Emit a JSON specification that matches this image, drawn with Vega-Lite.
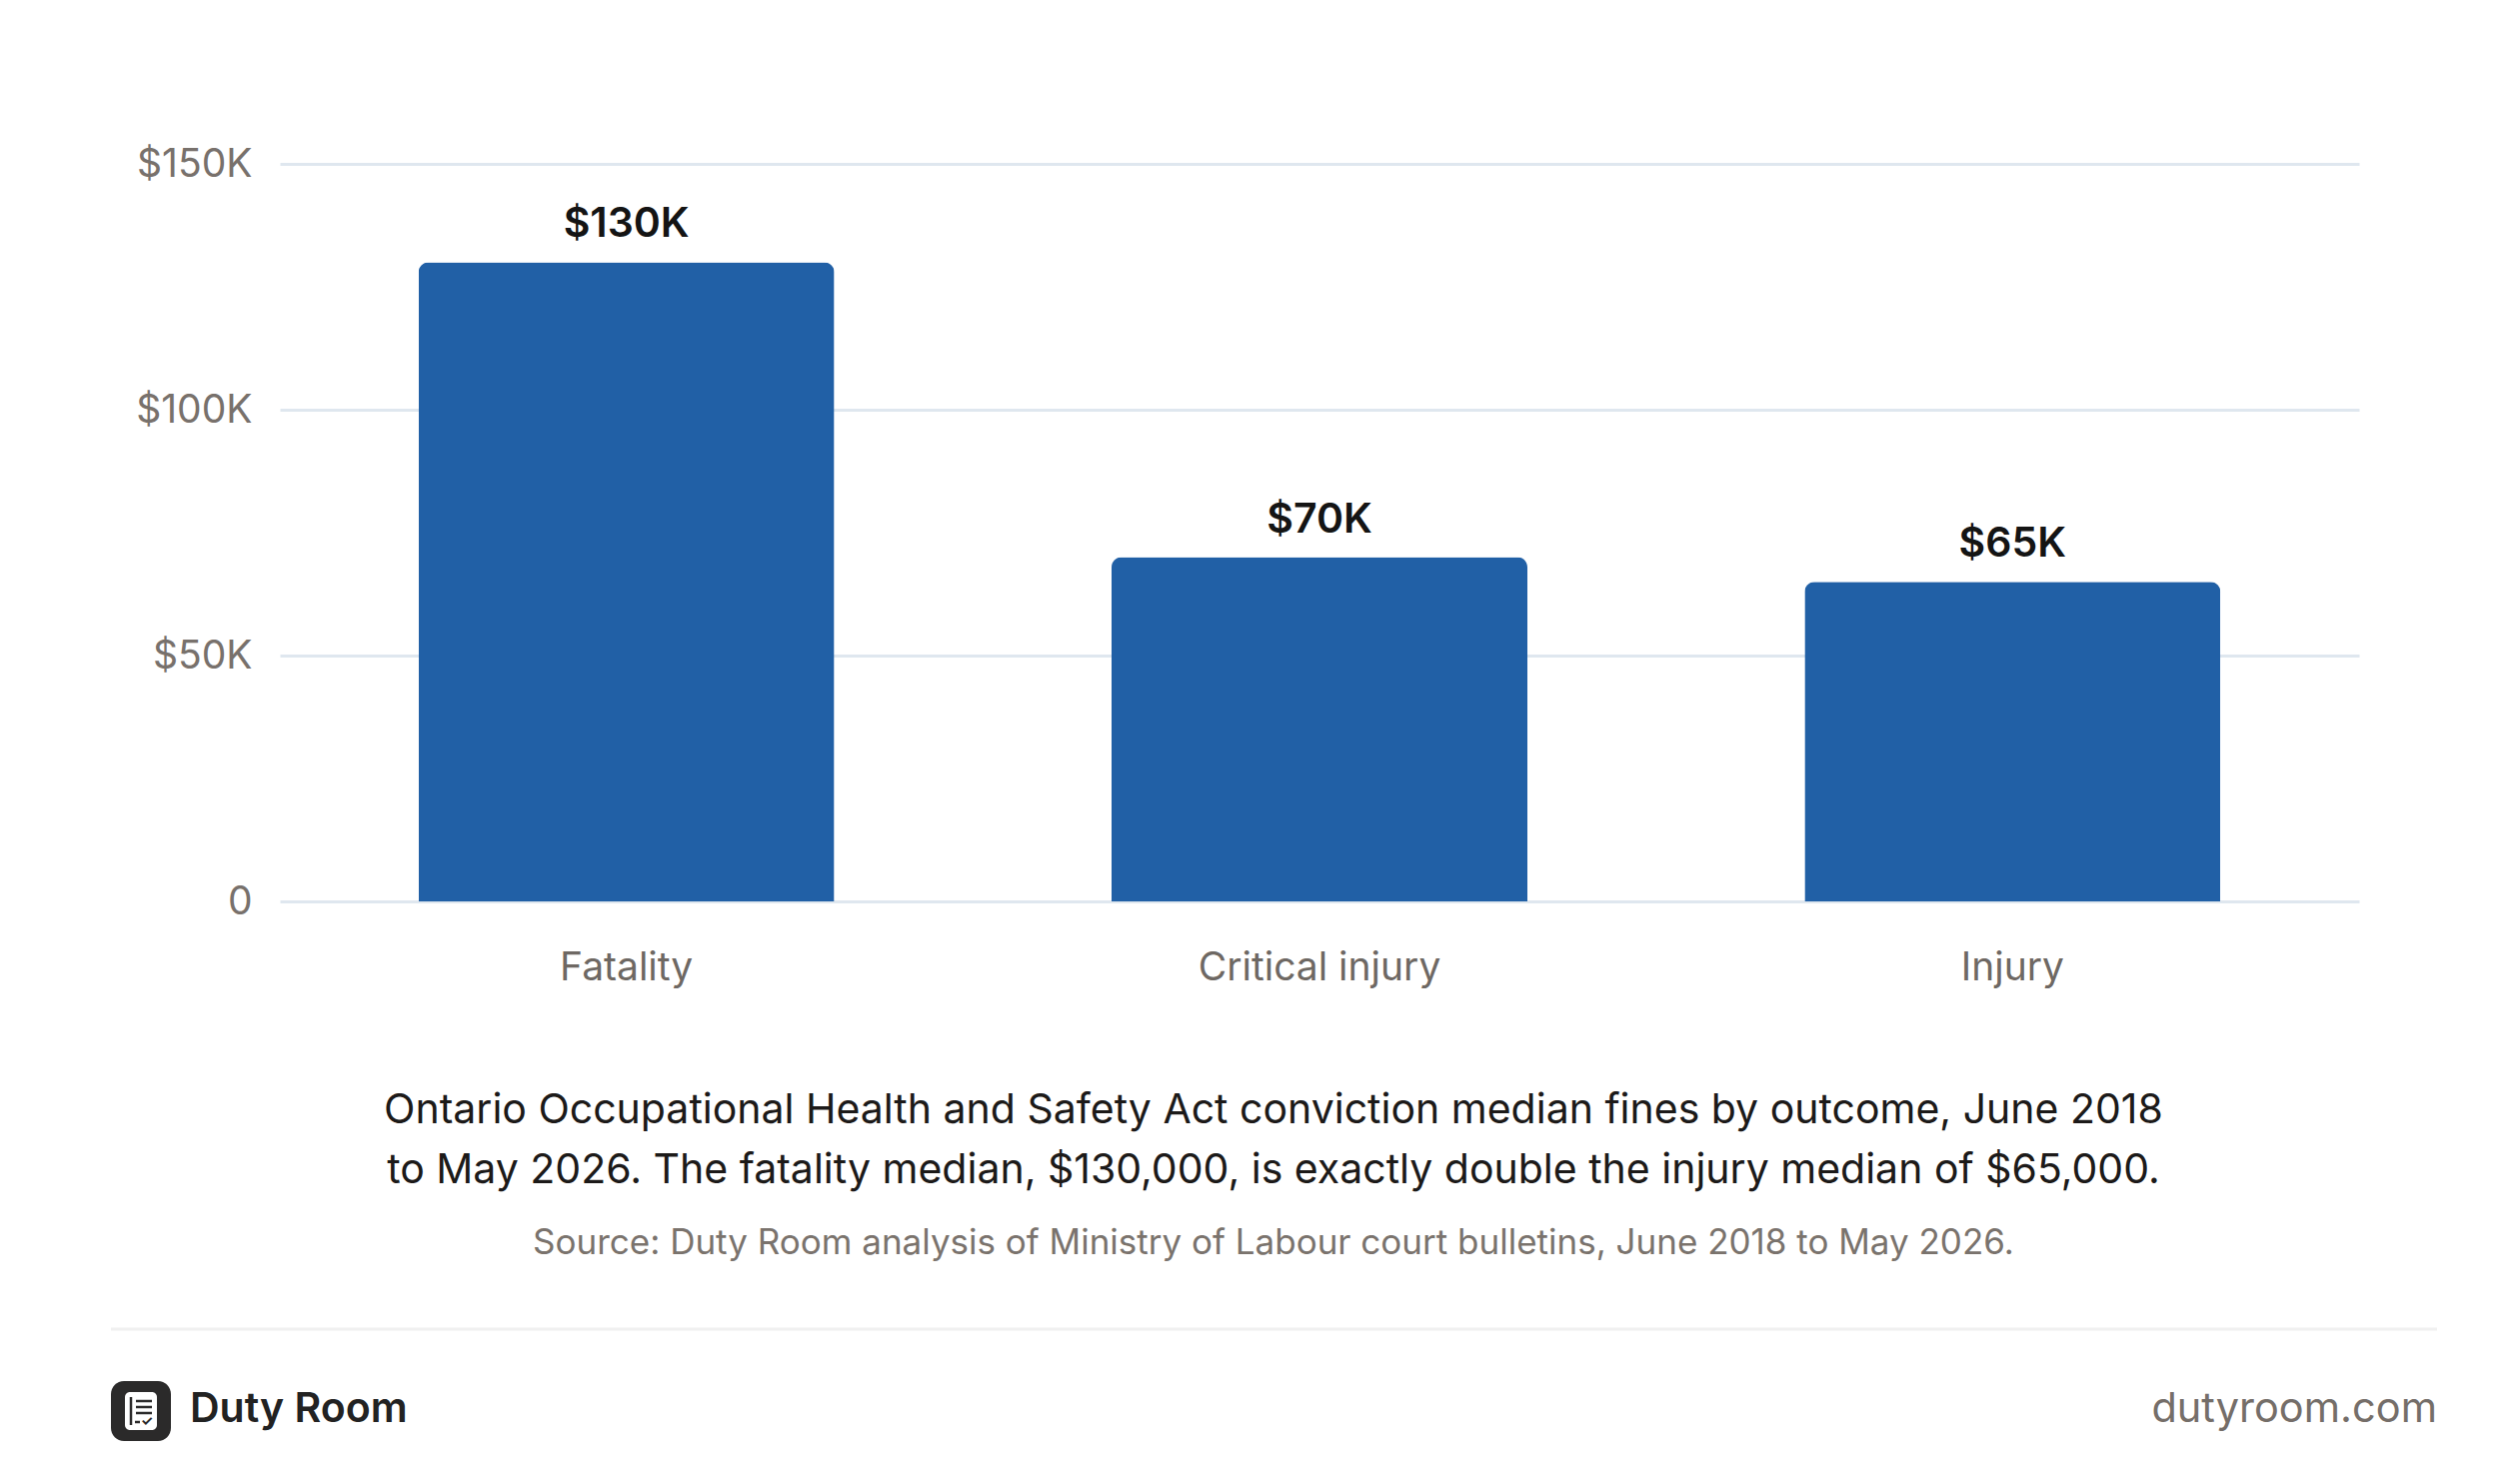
{
  "$schema": "https://vega.github.io/schema/vega-lite/v6.json",
  "background": "white",
  "padding": {"left": 109, "top": 145, "right": 84, "bottom": 0},
  "config": {"font": "Inter", "view": {"stroke": null}},
  "spacing": 66,
  "align": "none",
  "vconcat": [
    {
      "width": 2080,
      "height": 738,
      "data": {"values": [
        {"outcome": "Fatality", "median_fine": 130000, "label": "$130K"},
        {"outcome": "Critical injury", "median_fine": 70000, "label": "$70K"},
        {"outcome": "Injury", "median_fine": 65000, "label": "$65K"}
      ]},
      "title": {
        "text": ["Ontario Occupational Health and Safety Act conviction median fines by outcome, June 2018", "to May 2026. The fatality median, $130,000, is exactly double the injury median of $65,000."],
        "subtitle": "Source: Duty Room analysis of Ministry of Labour court bulletins, June 2018 to May 2026.",
        "orient": "bottom",
        "anchor": "middle",
        "frame": "group",
        "dx": -46,
        "offset": 104,
        "fontSize": 41,
        "fontWeight": 400,
        "lineHeight": 60,
        "color": "#1c1a19",
        "subtitleFontSize": 35,
        "subtitleColor": "#7a736d",
        "subtitlePadding": 34
      },
      "encoding": {
        "x": {
          "field": "outcome", "type": "nominal", "sort": null,
          "scale": {"paddingInner": 0.4, "paddingOuter": 0.2},
          "axis": {"title": null, "labelAngle": 0, "domain": false, "ticks": false, "labelFontSize": 39, "labelLimit": 0, "labelColor": "#6e6863", "labelPadding": 47}
        },
        "y": {
          "field": "median_fine", "type": "quantitative",
          "scale": {"domain": [0, 150000]},
          "axis": {"title": null, "values": [0, 50000, 100000, 150000], "labelExpr": "datum.value == 0 ? '0' : '$' + (datum.value / 1000) + 'K'", "domain": false, "ticks": false, "gridColor": "#dfe7ef", "gridWidth": 3, "labelFontSize": 39, "labelColor": "#78716c", "labelPadding": 28, "minExtent": 169, "maxExtent": 169}
        }
      },
      "layer": [
        {"mark": {"type": "bar", "color": "#2160a6", "cornerRadiusTopLeft": 10, "cornerRadiusTopRight": 10}},
        {"mark": {"type": "text", "dy": -37, "fontSize": 41, "fontWeight": 600, "color": "#141414"}, "encoding": {"text": {"field": "label"}}}
      ]
    },
    {
      "width": 2158,
      "height": 155,
      "data": {"values": [{"brand": "Duty Room", "site": "dutyroom.com"}]},
      "layer": [
        {"mark": {"type": "rule", "color": "#f0f0f0", "strokeWidth": 3}, "encoding": {"x": {"value": -169}, "x2": {"value": "width"}, "y": {"value": 0}}},
        {"mark": {"type": "rect", "color": "#2b2a2a", "cornerRadius": 13}, "encoding": {"x": {"value": -169}, "x2": {"value": -109}, "y": {"value": 52}, "y2": {"value": 112}}},
        {"mark": {"type": "rect", "color": "white", "cornerRadius": 5}, "encoding": {"x": {"value": -155}, "x2": {"value": -123}, "y": {"value": 63}, "y2": {"value": 101}}},
        {"mark": {"type": "rule", "color": "#2b2a2a", "strokeWidth": 2.5}, "encoding": {"x": {"value": -149}, "y": {"value": 68}, "y2": {"value": 96}}},
        {"mark": {"type": "rule", "color": "#2b2a2a", "strokeWidth": 2.5}, "encoding": {"x": {"value": -144}, "x2": {"value": -128}, "y": {"value": 72}}},
        {"mark": {"type": "rule", "color": "#2b2a2a", "strokeWidth": 2.5}, "encoding": {"x": {"value": -144}, "x2": {"value": -128}, "y": {"value": 78}}},
        {"mark": {"type": "rule", "color": "#2b2a2a", "strokeWidth": 2.5}, "encoding": {"x": {"value": -144}, "x2": {"value": -128}, "y": {"value": 84}}},
        {"mark": {"type": "rule", "color": "#2b2a2a", "strokeWidth": 2.5}, "encoding": {"x": {"value": -145}, "x2": {"value": -140}, "y": {"value": 93}}},
        {"mark": {"type": "text", "text": "✓", "fontSize": 14, "fontWeight": 700, "color": "#2b2a2a", "baseline": "middle", "align": "center"}, "encoding": {"x": {"value": -133}, "y": {"value": 93}}},
        {"mark": {"type": "text", "fontSize": 41, "fontWeight": 600, "color": "#222222", "baseline": "middle", "align": "left"}, "encoding": {"text": {"field": "brand"}, "x": {"value": -90}, "y": {"value": 81}}},
        {"mark": {"type": "text", "fontSize": 41.5, "fontWeight": 400, "color": "#756e69", "baseline": "middle", "align": "right"}, "encoding": {"text": {"field": "site"}, "x": {"value": "width"}, "y": {"value": 81}}}
      ]
    }
  ]
}
